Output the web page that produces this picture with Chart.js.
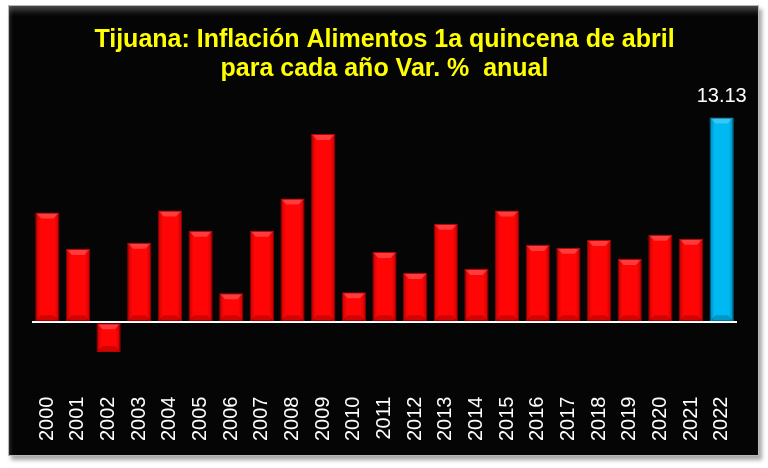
<!DOCTYPE html>
<html>
<head>
<meta charset="utf-8">
<script src="https://cdn.jsdelivr.net/npm/chart.js@4.4.1/dist/chart.umd.min.js"></script>
<style>
  html, body { margin: 0; padding: 0; background: #fff; }
  body { width: 768px; height: 468px; position: relative; overflow: hidden; }
  #marco {
    position: absolute; left: 8px; top: 5px; width: 749px; height: 449px;
    background: #050505;
    border: 1px solid #b8b8b8;
    box-shadow: 3px 4px 4px rgba(0,0,0,0.35), inset 0 9px 7px -5px rgba(140,140,140,0.55), inset 4px 0 4px -3px rgba(120,120,120,0.4);
  }
  #grafico { position: absolute; left: 8px; top: 5px; }
</style>
</head>
<body>
<div id="marco"></div>
<canvas id="grafico" width="750" height="450"></canvas>
<script>
/* Inflación alimentos Tijuana, 1a quincena de abril */

const ANIOS = [
  '2000', '2001', '2002', '2003', '2004', '2005', '2006', '2007', '2008', '2009', '2010', '2011',
  '2012', '2013', '2014', '2015', '2016', '2017', '2018', '2019', '2020', '2021', '2022'
];
const VARIACION = [
  7.03, 4.70, -1.92, 5.09, 7.16, 5.87, 1.86, 5.87, 7.94, 12.07, 1.92, 4.51,
  3.15, 6.32, 3.41, 7.16, 4.96, 4.77, 5.28, 4.05, 5.61, 5.35, 13.13
];
const TITULO = ['Tijuana: Inflación Alimentos 1a quincena de abril', 'para cada año Var. %  anual'];

const ROJO = '#ff0505';
const ROJO_BORDE = '#c00000';
const AZUL = '#00b8f2';
const AZUL_BORDE = '#0088c0';
const ultimo = VARIACION.length - 1;

// relieve de las barras + etiqueta del último año
const relieve = {
  id: 'relieve',
  afterDatasetsDraw(chart) {
    const ctx = chart.ctx;
    const meta = chart.getDatasetMeta(0);
    meta.data.forEach((bar, i) => {
      const { x, y, base, width } = bar.getProps(['x', 'y', 'base', 'width'], true);
      const izq = x - width / 2, der = x + width / 2;
      const arriba = Math.min(y, base), abajo = Math.max(y, base);
      const b = 6;
      ctx.save();
      // bisel superior
      ctx.fillStyle = 'rgba(255,255,255,0.22)';
      ctx.beginPath();
      ctx.moveTo(izq + 1, arriba + 1);
      ctx.lineTo(der - 1, arriba + 1);
      ctx.lineTo(der - b, arriba + b);
      ctx.lineTo(izq + b, arriba + b);
      ctx.closePath();
      ctx.fill();
      // bisel inferior
      ctx.fillStyle = 'rgba(0,0,0,0.18)';
      ctx.beginPath();
      ctx.moveTo(izq + 1, abajo - 1);
      ctx.lineTo(der - 1, abajo - 1);
      ctx.lineTo(der - b, abajo - b);
      ctx.lineTo(izq + b, abajo - b);
      ctx.closePath();
      ctx.fill();
      // laterales
      const g = ctx.createLinearGradient(izq, 0, der, 0);
      g.addColorStop(0, 'rgba(0,0,0,0.28)');
      g.addColorStop(0.2, 'rgba(0,0,0,0)');
      g.addColorStop(0.8, 'rgba(0,0,0,0)');
      g.addColorStop(1, 'rgba(0,0,0,0.28)');
      ctx.fillStyle = g;
      ctx.fillRect(izq, arriba + 1, width, abajo - arriba - 2);
      ctx.restore();

      if (i === ultimo) {
        ctx.save();
        ctx.fillStyle = '#ffffff';
        ctx.font = '20px "Liberation Sans", Arial, sans-serif';
        ctx.textAlign = 'center';
        ctx.textBaseline = 'bottom';
        ctx.fillText(VARIACION[i].toFixed(2), x, y - 11);
        ctx.restore();
      }
    });
  }
};

new Chart(document.getElementById('grafico'), {
  type: 'bar',
  data: {
    labels: ANIOS,
    datasets: [{
      data: VARIACION,
      backgroundColor: VARIACION.map((v, i) => i === ultimo ? AZUL : ROJO),
      borderColor: VARIACION.map((v, i) => i === ultimo ? AZUL_BORDE : ROJO_BORDE),
      borderWidth: 1,
      borderSkipped: false,
      categoryPercentage: 1,
      barPercentage: 0.79
    }]
  },
  options: {
    responsive: false,
    animation: false,
    layout: { padding: { top: 5, left: 24, right: 21, bottom: 10 } },
    plugins: {
      legend: { display: false },
      tooltip: { enabled: false },
      title: {
        display: true,
        text: TITULO,
        color: '#ffff00',
        font: { family: '"Liberation Sans Narrow", "Arial Narrow", sans-serif', size: 25, weight: 'bold', lineHeight: 1.16 },
        padding: { top: 16, bottom: 20 }
      }
    },
    scales: {
      x: {
        grid: { display: false },
        border: { display: false },
        ticks: {
          color: '#ffffff',
          font: { family: '"Liberation Sans", Arial, sans-serif', size: 20 },
          minRotation: 90,
          maxRotation: 90,
          autoSkip: false,
          padding: 4
        }
      },
      y: {
        min: -4,
        max: 14,
        ticks: { display: false, stepSize: 1 },
        border: { display: false },
        grid: {
          drawTicks: false,
          lineWidth: 2,
          color: c => c.tick && c.tick.value === 0 ? '#ffffff' : 'rgba(0,0,0,0)'
        }
      }
    }
  },
  plugins: [relieve]
});
</script>
</body>
</html>
